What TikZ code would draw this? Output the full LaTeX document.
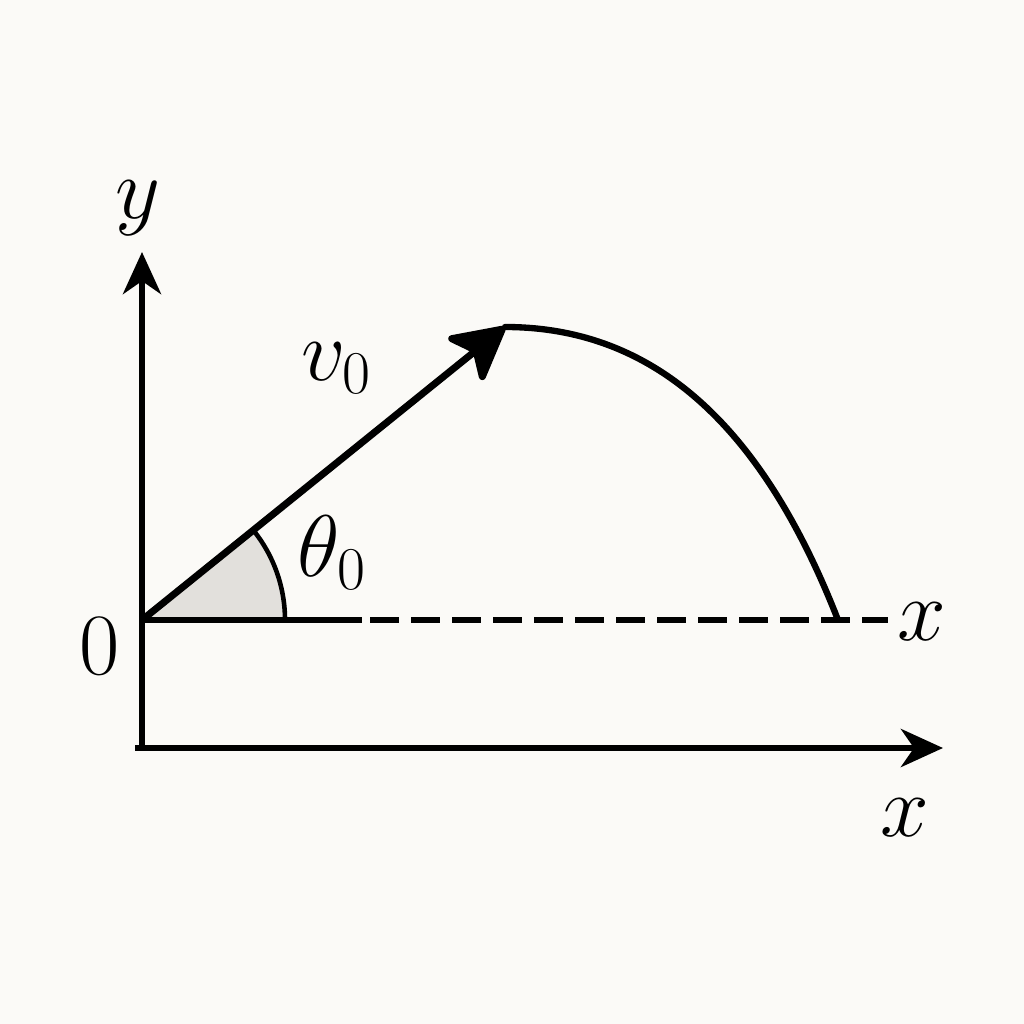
\documentclass[tikz,border=0pt]{standalone}
\usetikzlibrary{arrows.meta}
\definecolor{bgc}{HTML}{FBFAF7}
\definecolor{wedge}{HTML}{E2E0DC}
\begin{document}
\begin{tikzpicture}[x=0.01cm,y=-0.01cm,
  axis/.style={line width=1.8pt,-{Stealth[length=4.2mm,width=3.8mm,inset=1.3mm]}},
  thick line/.style={line width=1.8pt},
  lbl/.style={inner sep=0pt,font=\fontsize{23}{27}\selectfont},
  dash line/.style={line width=1.8pt,dash pattern=on 0.29cm off 0.12cm}]
\fill[bgc] (0,0) rectangle (1024,1024);
\useasboundingbox (0,0) rectangle (1024,1024);
% key points
\coordinate (O) at (142,620);
\coordinate (Ybot) at (142,748);
\coordinate (Ytip) at (142,252);
\coordinate (Xl) at (135,748);
\coordinate (Xtip) at (943,748);
\coordinate (S) at (362,620);
\coordinate (Dend) at (888,620);
\coordinate (V) at (505,327);
\coordinate (L) at (838,620);
\coordinate (A) at (285,620);
% angle wedge
\fill[wedge] (O) -- (A) arc[start angle=0,end angle=-39,radius=143] -- cycle;
\draw[line width=1.3pt] (A) arc[start angle=0,end angle=-39,radius=143];
% axes
\draw[axis] (Ybot) -- (Ytip);
\draw[axis] (Xl) -- (Xtip);
% horizontal launch level
\draw[thick line] (O) -- (S);
\draw[dash line] (S) ++(8,0) coordinate (S2) (S2) -- (Dend);
% trajectory
\draw[thick line,line cap=round] (V) .. controls (650,327) and (760,420) .. (L);
% velocity vector
\draw[line width=2pt,-{Stealth[length=6mm,width=6.4mm,inset=1.5mm,round]}] (O) -- (V);
% labels
\node[lbl] (ylab) at (138,208) {$y$};
\node[lbl] (v0) at (337,368) {$v_0$};
\node[lbl] (th0) at (332,553) {$\theta_0$};
\node[lbl] (zero) at (100,646) {$0$};
\node[lbl] (x1) at (922,622) {$x$};
\node[lbl] (x2) at (905,818) {$x$};
\end{tikzpicture}
\end{document}
